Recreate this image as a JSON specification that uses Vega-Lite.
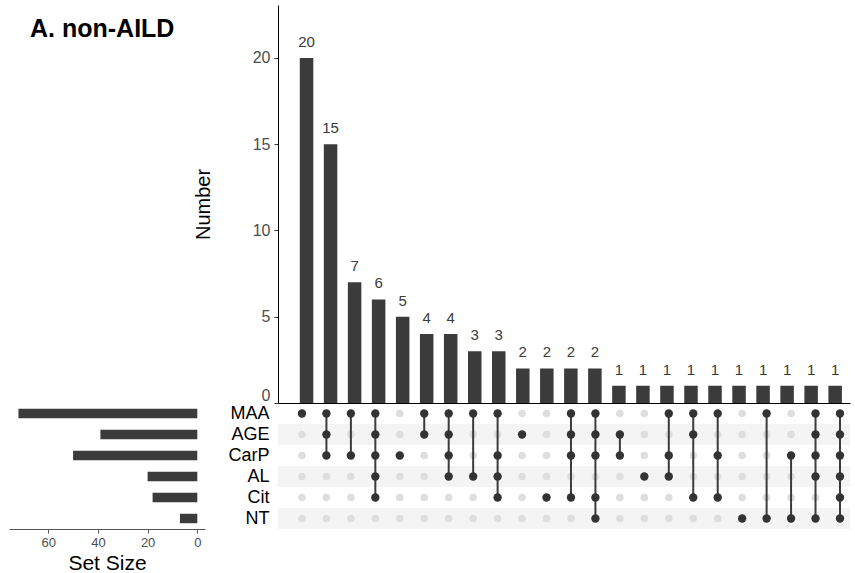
{
  "$schema": "https://vega.github.io/schema/vega-lite/v6.json",
  "padding": {"left": 9, "top": 5, "right": 5, "bottom": 0},
  "background": "white",
  "config": {
    "font": "Liberation Sans",
    "view": {"stroke": null},
    "axis": {"grid": false}
  },
  "datasets": {
    "combos": [
      {"c": 1, "n": 20, "MAA": 1, "AGE": 0, "CarP": 0, "AL": 0, "Cit": 0, "NT": 0},
      {"c": 2, "n": 15, "MAA": 1, "AGE": 1, "CarP": 1, "AL": 0, "Cit": 0, "NT": 0},
      {"c": 3, "n": 7, "MAA": 1, "AGE": 0, "CarP": 1, "AL": 0, "Cit": 0, "NT": 0},
      {"c": 4, "n": 6, "MAA": 1, "AGE": 1, "CarP": 1, "AL": 1, "Cit": 1, "NT": 0},
      {"c": 5, "n": 5, "MAA": 0, "AGE": 0, "CarP": 1, "AL": 0, "Cit": 0, "NT": 0},
      {"c": 6, "n": 4, "MAA": 1, "AGE": 1, "CarP": 0, "AL": 0, "Cit": 0, "NT": 0},
      {"c": 7, "n": 4, "MAA": 1, "AGE": 1, "CarP": 1, "AL": 1, "Cit": 0, "NT": 0},
      {"c": 8, "n": 3, "MAA": 1, "AGE": 0, "CarP": 0, "AL": 1, "Cit": 0, "NT": 0},
      {"c": 9, "n": 3, "MAA": 1, "AGE": 0, "CarP": 1, "AL": 1, "Cit": 1, "NT": 0},
      {"c": 10, "n": 2, "MAA": 0, "AGE": 1, "CarP": 0, "AL": 0, "Cit": 0, "NT": 0},
      {"c": 11, "n": 2, "MAA": 0, "AGE": 0, "CarP": 0, "AL": 0, "Cit": 1, "NT": 0},
      {"c": 12, "n": 2, "MAA": 1, "AGE": 1, "CarP": 1, "AL": 0, "Cit": 1, "NT": 0},
      {"c": 13, "n": 2, "MAA": 1, "AGE": 1, "CarP": 1, "AL": 0, "Cit": 1, "NT": 1},
      {"c": 14, "n": 1, "MAA": 0, "AGE": 1, "CarP": 1, "AL": 0, "Cit": 0, "NT": 0},
      {"c": 15, "n": 1, "MAA": 0, "AGE": 0, "CarP": 0, "AL": 1, "Cit": 0, "NT": 0},
      {"c": 16, "n": 1, "MAA": 1, "AGE": 0, "CarP": 1, "AL": 1, "Cit": 0, "NT": 0},
      {"c": 17, "n": 1, "MAA": 1, "AGE": 1, "CarP": 0, "AL": 0, "Cit": 1, "NT": 0},
      {"c": 18, "n": 1, "MAA": 1, "AGE": 0, "CarP": 1, "AL": 0, "Cit": 1, "NT": 0},
      {"c": 19, "n": 1, "MAA": 0, "AGE": 0, "CarP": 0, "AL": 0, "Cit": 0, "NT": 1},
      {"c": 20, "n": 1, "MAA": 1, "AGE": 0, "CarP": 0, "AL": 0, "Cit": 0, "NT": 1},
      {"c": 21, "n": 1, "MAA": 0, "AGE": 0, "CarP": 1, "AL": 0, "Cit": 0, "NT": 1},
      {"c": 22, "n": 1, "MAA": 1, "AGE": 1, "CarP": 1, "AL": 1, "Cit": 0, "NT": 1},
      {"c": 23, "n": 1, "MAA": 1, "AGE": 1, "CarP": 1, "AL": 1, "Cit": 1, "NT": 1}
    ],
    "sizes": [
      {"s": "MAA", "n": 72},
      {"s": "AGE", "n": 39},
      {"s": "CarP", "n": 50},
      {"s": "AL", "n": 20},
      {"s": "Cit", "n": 18},
      {"s": "NT", "n": 7}
    ],
    "stripes": [
      {"s": "AGE"},
      {"s": "AL"},
      {"s": "NT"}
    ]
  },
  "columns": 2,
  "spacing": {"row": 0, "column": 73},
  "bounds": "flush",
  "resolve": {"scale": {"x": "independent", "y": "independent"}},
  "concat": [
    {
      "width": 196,
      "height": 398,
      "data": {"values": []},
      "mark": "point",
      "title": {
        "text": "A. non-AILD",
        "anchor": "start",
        "fontSize": 25,
        "fontWeight": "bold",
        "color": "#000000",
        "offset": -37,
        "dx": 21
      }
    },
    {
      "width": 572,
      "height": 398,
      "data": {"name": "combos"},
      "encoding": {
        "x": {
          "field": "c",
          "type": "quantitative",
          "scale": {"domain": [0.02, 23.41], "nice": false, "zero": false},
          "axis": {"title": null, "labels": false, "ticks": false, "domainColor": "#000000", "domainWidth": 1.2}
        },
        "y": {
          "field": "n",
          "type": "quantitative",
          "scale": {"domain": [0, 23.07], "nice": false},
          "axis": {
            "values": [0, 5, 10, 15, 20],
            "title": "Number",
            "titleFontSize": 20,
            "titleFontWeight": "normal",
            "titleColor": "#000000",
            "titlePadding": 39,
            "labelFontSize": 16,
            "labelColor": "#4d4d4d",
            "labelPadding": 4,
            "labelFlush": true,
            "labelFlushOffset": 0,
            "tickSize": 4,
            "tickColor": "#333333",
            "domainColor": "#000000"
          }
        }
      },
      "layer": [
        {"mark": {"type": "bar", "size": 13.5, "color": "#3b3b3b"}},
        {
          "mark": {"type": "text", "baseline": "alphabetic", "dy": -11, "fontSize": 15, "color": "#3a3a3a"},
          "encoding": {"text": {"field": "n", "type": "quantitative"}}
        }
      ]
    },
    {
      "width": 196,
      "height": 126,
      "data": {"name": "sizes"},
      "mark": {"type": "bar", "color": "#3b3b3b"},
      "encoding": {
        "y": {
          "field": "s",
          "type": "nominal",
          "scale": {"domain": ["MAA", "AGE", "CarP", "AL", "Cit", "NT"], "paddingInner": 0.55, "paddingOuter": 0.275},
          "axis": null
        },
        "x": {
          "field": "n",
          "type": "quantitative",
          "scale": {"domain": [-3.1, 75.8], "reverse": true, "nice": false, "zero": false},
          "axis": {
            "values": [0, 20, 40, 60],
            "title": "Set Size",
            "titleFontSize": 21,
            "titleFontWeight": "normal",
            "titleColor": "#000000",
            "titlePadding": 3,
            "labelFontSize": 13,
            "labelColor": "#4d4d4d",
            "labelPadding": 3,
            "tickSize": 4,
            "tickColor": "#555555",
            "domainColor": "#555555"
          }
        },
        "x2": {"datum": 0}
      }
    },
    {
      "width": 572,
      "height": 126,
      "encoding": {
        "y": {
          "field": "s",
          "type": "nominal",
          "scale": {"type": "band", "domain": ["MAA", "AGE", "CarP", "AL", "Cit", "NT"], "paddingInner": 0, "paddingOuter": 0},
          "axis": {
            "title": null,
            "domain": false,
            "ticks": false,
            "labelPadding": 9,
            "labelFontSize": 18,
            "labelColor": "#000000"
          }
        }
      },
      "layer": [
        {
          "data": {"name": "stripes"},
          "mark": {"type": "rect", "color": "#f4f4f4"}
        },
        {
          "data": {"name": "combos"},
          "transform": [{"fold": ["MAA", "AGE", "CarP", "AL", "Cit", "NT"], "as": ["s", "m"]}],
          "mark": {"type": "circle", "size": 58, "color": "#dedede", "opacity": 1},
          "encoding": {
            "x": {"field": "c", "type": "quantitative", "scale": {"domain": [0.02, 23.41], "nice": false, "zero": false}, "axis": null}
          }
        },
        {
          "data": {"name": "combos"},
          "transform": [
            {"fold": ["MAA", "AGE", "CarP", "AL", "Cit", "NT"], "as": ["s", "m"]},
            {"filter": "datum.m == 1"}
          ],
          "mark": {"type": "line", "color": "#3b3b3b", "strokeWidth": 2},
          "encoding": {
            "x": {"field": "c", "type": "quantitative", "scale": {"domain": [0.02, 23.41], "nice": false, "zero": false}, "axis": null},
            "detail": {"field": "c", "type": "nominal"},
            "order": {"value": null}
          }
        },
        {
          "data": {"name": "combos"},
          "transform": [
            {"fold": ["MAA", "AGE", "CarP", "AL", "Cit", "NT"], "as": ["s", "m"]},
            {"filter": "datum.m == 1"}
          ],
          "mark": {"type": "circle", "size": 70, "color": "#333333", "opacity": 1},
          "encoding": {
            "x": {"field": "c", "type": "quantitative", "scale": {"domain": [0.02, 23.41], "nice": false, "zero": false}, "axis": null}
          }
        }
      ]
    }
  ]
}
